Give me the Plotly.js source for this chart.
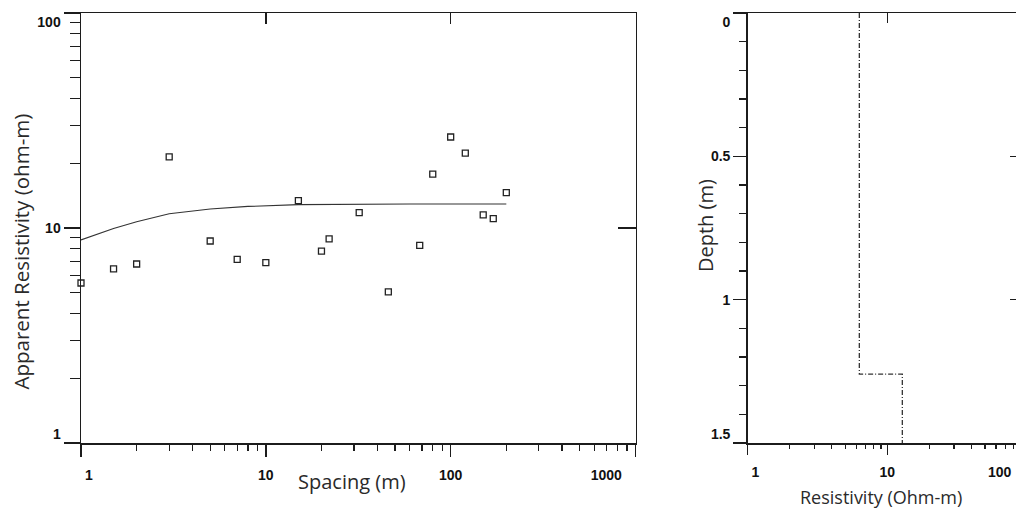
<!DOCTYPE html>
<html>
<head>
<meta charset="utf-8">
<script src="https://cdn.plot.ly/plotly-3.0.1.min.js"></script>
<style>
  html, body { margin: 0; padding: 0; overflow: hidden; background: #fff; }
  #chart { width: 1040px; height: 510px; }
</style>
</head>
<body>
<div id="chart"></div>
<script>
// ---- Data ----
// Left panel: measured apparent resistivity vs electrode spacing
const spacing = [1, 1.5, 2, 3, 5, 7, 10, 15, 20, 22, 32, 46, 68, 80, 100, 120, 150, 170, 200];
const apparentRes = [5.55, 6.45, 6.8, 21.4, 8.7, 7.15, 6.9, 13.4, 7.8, 8.9, 11.8, 5.05, 8.3, 17.8, 26.5, 22.3, 11.5, 11.05, 14.6];
// Left panel: model fit curve
const fitSpacing = [1, 1.27, 1.5, 2, 3, 5, 8, 15, 30, 60, 100, 200];
const fitRes = [8.8, 9.5, 9.95, 10.7, 11.65, 12.25, 12.6, 12.85, 12.92, 12.93, 12.93, 12.93];
// Right panel: layered model (resistivity of each layer, top depth of each layer)
const layerRes = [6.3, 12.8];
const layerTop = [0, 1.26];
const modelBottom = 1.5;

// Tick labels
const leftXTicks = [1, 10, 100, 1000];
const leftXLabels = ['1', '10', '100', '1000'];
const leftYTicks = [1, 10, 100];
const leftYLabels = ['1', '10', '100'];
const rightXTicks = [1, 10, 100];
const rightXLabels = ['1', '10', '100'];
const rightYTicks = [0, 0.5, 1, 1.5];
const rightYLabels = ['0', '0.5', '1', '1.5'];

// Titles
const leftXTitle = 'Spacing (m)';
const leftYTitle = 'Apparent Resistivity (ohm-m)';
const rightXTitle = 'Resistivity (Ohm-m)';
const rightYTitle = 'Depth (m)';

// ---- helpers ----
const NB = '\u00a0';
const pad = (n) => NB.repeat(n);
function logMinor(decades) {
  const v = [];
  for (let d = 0; d < decades; d++) for (let k = 2; k <= 9; k++) v.push(k * Math.pow(10, d));
  return v;
}
function linMinor(a, b, step) {
  const v = [];
  for (let t = a; t <= b + 1e-9; t += step) v.push(+t.toFixed(3));
  return v;
}

// step profile from layers
const stepX = [], stepY = [];
for (let i = 0; i < layerRes.length; i++) {
  const bottom = i + 1 < layerTop.length ? layerTop[i + 1] : modelBottom;
  stepX.push(layerRes[i], layerRes[i]);
  stepY.push(layerTop[i], bottom);
}

// edge labels in the reference are pushed inward
const lastRX = rightXLabels.length - 1;
const lxText = leftXLabels.map((t, i) => i === 0 ? pad(4) + t : (i === leftXLabels.length - 1 ? t + pad(15) : t));
const lyText = leftYLabels.map((t, i) => i === 0 ? t + '<br>' + NB : (i === leftYLabels.length - 1 ? NB + '<br>' + t : t));
const rxText = rightXLabels.map((t, i) => i === 0 ? pad(4) + t : (i === lastRX ? '' : t));
const ryText = rightYLabels.map((t, i) => i === 0 ? NB + '<br>' + t : (i === rightYLabels.length - 1 ? t + '<br>' + NB : t));

const W = 1040, H = 510;
const INK = '#1c1c1c';
const tickFont = { family: 'Liberation Sans, Arial, sans-serif', size: 14, color: '#111', weight: 700 };
const titleFont = (s) => ({ family: 'Open Sans, Noto Sans, sans-serif', size: s, color: '#2a2a2a' });

const dom1 = [81 / W, 635.5 / W];
const dom2 = [747.7 / W, 1027 / W];

const traces = [
  { x: fitSpacing, y: fitRes, xaxis: 'x', yaxis: 'y', mode: 'lines',
    line: { color: '#333', width: 1.1 }, hoverinfo: 'skip', showlegend: false },
  { x: spacing, y: apparentRes, xaxis: 'x', yaxis: 'y', mode: 'markers',
    marker: { symbol: 'square-open', size: 6, color: '#222', line: { width: 1.3, color: '#222' } },
    cliponaxis: false, hoverinfo: 'skip', showlegend: false },
  { x: stepX, y: stepY, xaxis: 'x2', yaxis: 'y2', mode: 'lines',
    line: { color: '#333', width: 1.3, dash: '5px,2px,1px,2px' }, hoverinfo: 'skip', showlegend: false },
  // empty traces to realise the mirrored frame axes
  { x: [], y: [], xaxis: 'x3', yaxis: 'y', mode: 'lines', hoverinfo: 'skip', showlegend: false },
  { x: [], y: [], xaxis: 'x', yaxis: 'y3', mode: 'lines', hoverinfo: 'skip', showlegend: false },
  { x: [], y: [], xaxis: 'x4', yaxis: 'y2', mode: 'lines', hoverinfo: 'skip', showlegend: false },
  { x: [], y: [], xaxis: 'x2', yaxis: 'y4', mode: 'lines', hoverinfo: 'skip', showlegend: false }
];

const baseAx = {
  showgrid: false, zeroline: false, showline: true, linecolor: INK, linewidth: 1.5,
  tickcolor: INK, tickwidth: 1.4, tickmode: 'array', tickfont: tickFont, automargin: false,
  fixedrange: true, ticklabeloverflow: 'allow'
};

const layout = {
  width: W, height: H,
  margin: { l: 0, r: 0, t: 13, b: 67, pad: 0 },
  paper_bgcolor: '#fff', plot_bgcolor: '#fff',
  showlegend: false,
  xaxis: Object.assign({}, baseAx, {
    type: 'log', range: [0, 3], domain: dom1, anchor: 'y',
    ticks: 'outside', ticklen: 12, tickvals: leftXTicks, ticktext: lxText, ticklabelstandoff: 7,
    minor: { ticks: 'outside', ticklen: 6, tickwidth: 1.2, tickcolor: INK, tickvals: logMinor(3), showgrid: false }
  }),
  yaxis: Object.assign({}, baseAx, {
    type: 'log', range: [0, 2], domain: [0, 1], anchor: 'x',
    ticks: 'outside', ticklen: 16, tickvals: leftYTicks, ticktext: lyText,
    minor: { ticks: 'outside', ticklen: 10, tickwidth: 1.2, tickcolor: INK, tickvals: logMinor(2), showgrid: false }
  }),
  xaxis3: Object.assign({}, baseAx, {
    type: 'log', range: [0, 3], overlaying: 'x', side: 'top', anchor: 'y', linewidth: 1.2,
    ticks: 'inside', ticklen: 11, tickvals: leftXTicks, showticklabels: false
  }),
  yaxis3: Object.assign({}, baseAx, {
    type: 'log', range: [0, 2], overlaying: 'y', side: 'right', anchor: 'x', linewidth: 1.5,
    ticks: 'inside', ticklen: 18, tickvals: leftYTicks, showticklabels: false
  }),
  xaxis2: Object.assign({}, baseAx, {
    type: 'log', range: [0, 2], domain: dom2, anchor: 'y2',
    ticks: 'outside', ticklen: 10, tickvals: rightXTicks, ticktext: rxText, ticklabelstandoff: 6,
    minor: { ticks: 'outside', ticklen: 4, tickwidth: 1.2, tickcolor: INK, tickvals: logMinor(2), showgrid: false }
  }),
  yaxis2: Object.assign({}, baseAx, {
    type: 'linear', range: [modelBottom, 0], domain: [0, 1], anchor: 'x2',
    ticks: 'outside', ticklen: 13, tickvals: rightYTicks, ticktext: ryText,
    minor: { ticks: 'outside', ticklen: 7, tickwidth: 1.2, tickcolor: INK, tickvals: linMinor(0, 1.5, 0.1), showgrid: false }
  }),
  xaxis4: Object.assign({}, baseAx, {
    type: 'log', range: [0, 2], overlaying: 'x2', side: 'top', anchor: 'y2', linewidth: 1.2,
    ticks: 'inside', ticklen: 10, tickvals: rightXTicks, showticklabels: false
  }),
  yaxis4: Object.assign({}, baseAx, {
    type: 'linear', range: [modelBottom, 0], overlaying: 'y2', side: 'right', anchor: 'x2', linewidth: 1.5,
    ticks: 'inside', ticklen: 17, tickvals: rightYTicks, showticklabels: false
  }),
  annotations: [
    { text: leftXTitle, xref: 'paper', yref: 'paper', x: 352 / W, y: (443 - 481) / 430,
      xanchor: 'center', yanchor: 'middle', showarrow: false, font: titleFont(20) },
    { text: leftYTitle, xref: 'paper', yref: 'paper', x: 20.5 / W, y: (443 - 252) / 430, textangle: -90,
      xanchor: 'center', yanchor: 'middle', showarrow: false, font: titleFont(20.5) },
    { text: rightXTitle, xref: 'paper', yref: 'paper', x: 880.5 / W, y: (443 - 497) / 430,
      xanchor: 'center', yanchor: 'middle', showarrow: false, font: titleFont(18) },
    { text: rightYTitle, xref: 'paper', yref: 'paper', x: 705 / W, y: (443 - 226) / 430, textangle: -90,
      xanchor: 'center', yanchor: 'middle', showarrow: false, font: titleFont(20) },
    // last tick label of the right panel, kept inside the visible frame
    { text: rightXLabels[lastRX], xref: 'x2', yref: 'paper', x: Math.log10(rightXTicks[lastRX]),
      y: (443 - 472) / 430, xanchor: 'right', yanchor: 'middle', xshift: -13,
      showarrow: false, font: tickFont }
  ]
};

Plotly.newPlot('chart', traces, layout, { displayModeBar: false, staticPlot: true, responsive: false });
</script>
</body>
</html>
